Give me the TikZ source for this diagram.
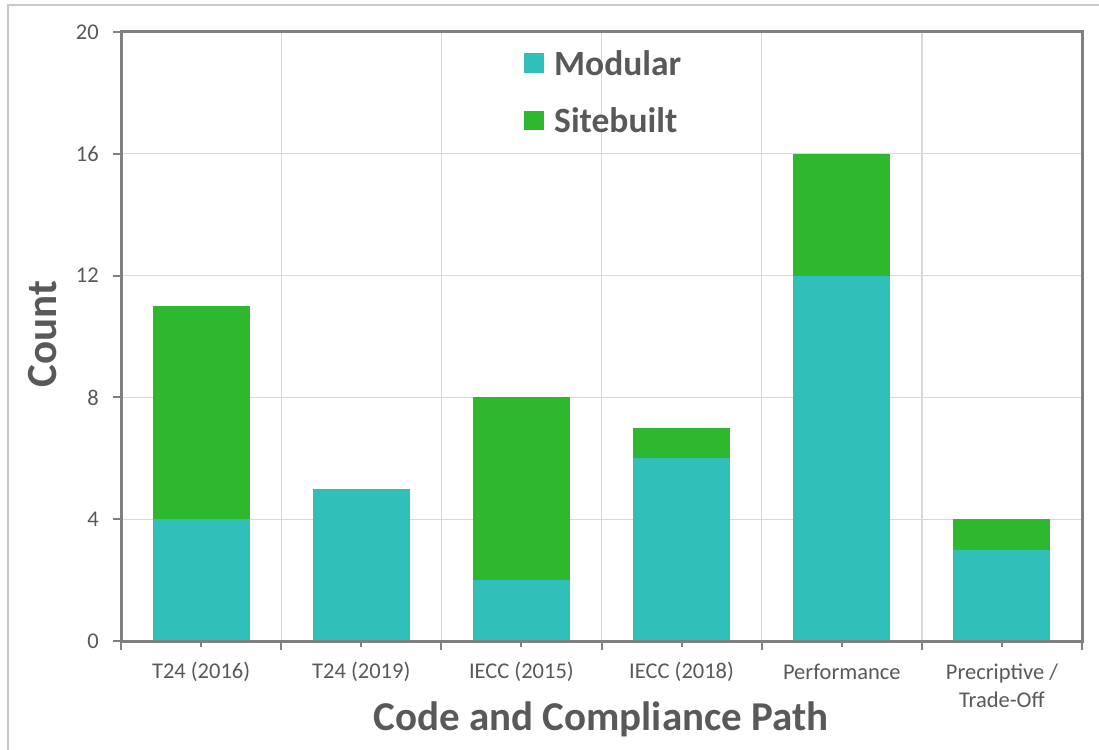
\documentclass[tikz,border=0pt]{standalone}
\usepackage{fontspec}
\setmainfont{Carlito}
\definecolor{modcol}{HTML}{31BFB9}
\definecolor{sitecol}{HTML}{2DB82F}
\definecolor{framecol}{HTML}{808080}
\definecolor{gridcol}{HTML}{D9D9D9}
\definecolor{txtcol}{HTML}{595959}
\definecolor{bordercol}{HTML}{C8C8C8}
\tikzset{
  ticklab/.style={text=txtcol,font=\fontsize{22.5}{26}\selectfont,inner sep=0pt},
  axtitle/.style={text=txtcol,font=\fontsize{41}{47}\selectfont\bfseries,inner sep=0pt},
  ytitle/.style={text=txtcol,font=\fontsize{43}{49}\selectfont\bfseries,inner sep=0pt},
  legtext/.style={text=txtcol,font=\fontsize{35.5}{41}\selectfont\bfseries,inner sep=0pt,anchor=west},
  gridline/.style={draw=gridcol,line width=1.3pt},
  frameline/.style={draw=framecol,line width=3pt},
  tickline/.style={draw=framecol,line width=2pt},
}
\begin{document}
\begin{tikzpicture}[x=1pt,y=-1pt]
\useasboundingbox (0,0) rectangle (1099,749);
\fill[white] (0,0) rectangle (1099,749);
\draw[bordercol,line width=1.5pt] (8,760) -- (8,5) -- (1110,5);
% grid
\foreach \v in {4,8,12,16} {
  \pgfmathsetmacro{\yy}{641-30.45*\v}
  \draw[gridline] (121,\yy) -- (1082,\yy);
}
\foreach \i in {1,...,5} {
  \pgfmathsetmacro{\xx}{121+160.17*\i}
  \draw[gridline] (\xx,32) -- (\xx,641);
}
% bars
\foreach \i/\m/\s in {0/4/7,1/5/0,2/2/6,3/6/1,4/12/4,5/3/1} {
  \pgfmathsetmacro{\xc}{121+160.17*(\i+0.5)}
  \pgfmathsetmacro{\ym}{641-30.45*\m}
  \pgfmathsetmacro{\yt}{641-30.45*(\m+\s)}
  \fill[modcol] (\xc-48.5,641) rectangle (\xc+48.5,\ym);
  \ifnum\s>0
  \fill[sitecol] (\xc-48.5,\ym) rectangle (\xc+48.5,\yt);
  \fi
}
% frame
\draw[frameline] (121,32) rectangle (1082,641);
% y ticks and labels
\foreach \v in {0,4,8,12,16,20} {
  \pgfmathsetmacro{\yy}{641-30.45*\v}
  \draw[tickline] (113,\yy) -- (121,\yy);
  \node[ticklab,anchor=east] (yl\v) at (99,\yy) {\v};
}
% x ticks
\foreach \i in {0,...,6} {
  \pgfmathsetmacro{\xx}{121+160.17*\i}
  \draw[tickline] (\xx,641) -- (\xx,650);
}
\foreach \i in {0,...,5} {
  \pgfmathsetmacro{\xx}{121+160.17*(\i+0.5)}
  \draw[tickline] (\xx,641) -- (\xx,647);
}
% x labels
\node[ticklab] (c1) at (201.1,672) {T24 (2016)};
\node[ticklab] (c2) at (361.3,672) {T24 (2019)};
\node[ticklab] (c3) at (521.4,672) {IECC (2015)};
\node[ticklab] (c4) at (681.6,672) {IECC (2018)};
\node[ticklab] (c5) at (841.8,672) {Performance};
\node[ticklab,align=center] (c6) at (1001.9,686) {Precriptive /\\[2pt]Trade-Off};
% axis titles
\node[axtitle] (xt) at (601,719) {Code and Compliance Path};
\node[ytitle,rotate=90] (yt) at (43,334) {Count};
% legend
\fill[modcol] (524,53) rectangle (544,73);
\node[legtext] (lm) at (554,63) {Modular};
\fill[sitecol] (524,111) rectangle (544,130);
\node[legtext] (ls) at (554,120.5) {Sitebuilt};
\end{tikzpicture}
\end{document}
